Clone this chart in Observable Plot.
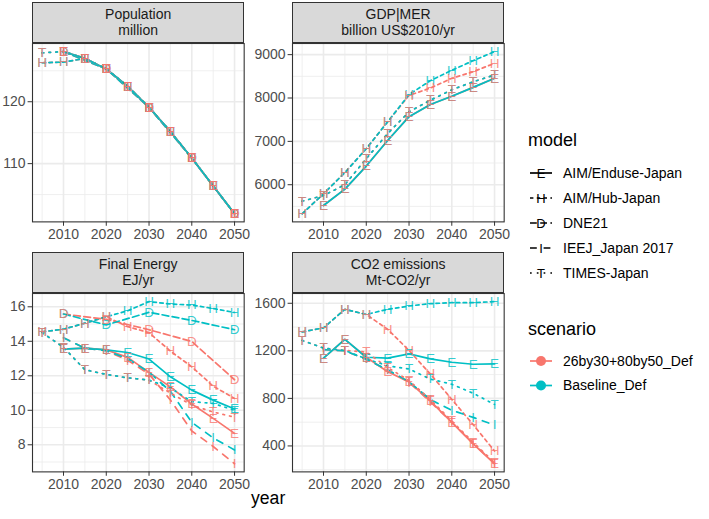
<!DOCTYPE html>
<html><head><meta charset="utf-8">
<script src="https://cdn.jsdelivr.net/npm/d3@7"></script>
<script src="https://cdn.jsdelivr.net/npm/@observablehq/plot@0.6"></script>
<style>
body{margin:0;background:#fff;}
#chart{position:relative;width:709px;height:519px;font-family:"Liberation Sans",Arial,sans-serif;overflow:hidden;background:#fff;}
.strip{position:absolute;box-sizing:border-box;background:#D9D9D9;border:1.1px solid #333;color:#1A1A1A;font-size:14px;line-height:16.7px;text-align:center;display:flex;flex-direction:column;justify-content:center;}
.pl{position:absolute;}
</style></head><body><div id="chart"></div>
<script>
// ---------- data ----------
const years = [2005,2010,2015,2020,2025,2030,2035,2040,2045,2050];
const models = ["AIM/Enduse-Japan","AIM/Hub-Japan","DNE21","IEEJ_Japan 2017","TIMES-Japan"];
const modelLetters = ["E","H","D","I","T"];
const scenarios = ["26by30+80by50_Def","Baseline_Def"];
const xMajor = [2010,2020,2030,2040,2050];
const xMinor = [2005,2015,2025,2035,2045];

// Population (million) - identical in both scenarios
const pop_E = [null,128.1,127.0,125.3,122.5,119.1,115.2,110.9,106.4,101.9];
const pop_H = [126.3,126.4,127.0,125.3,122.5,119.1,115.2,110.9,106.4,101.9];
const pop_D = [null,128.1,null,125.3,null,119.1,null,110.9,null,101.9];
const pop_I = [null,128.1,127.0,125.3,122.5,119.1,115.2,110.9,106.4,101.9];
const pop_T = [127.9,128.1,127.0,125.3,122.5,119.1,115.2,110.9,106.4,101.9];
const popMajor = [110,120];
const popMinor = [105,115,125];

// GDP|MER (billion US$2010/yr)
const gdp_E = [null,5520,5900,6430,7020,7570,7850,8040,8245,8454];
const gdp_H_pol = [5330,5790,6280,6830,7450,8060,8230,8454,8607,8800];
const gdp_H_base = [5330,5790,6280,6830,7450,8080,8400,8640,8860,9070];
const gdp_T = [5620,5750,6000,6600,7180,7680,7950,8190,8375,8530];
const gdpMajor = [6000,7000,8000,9000];
const gdpMinor = [5500,6500,7500,8500];

// Final Energy (EJ/yr)
const fe_E_pol = [null,13.55,13.6,13.5,13.07,12.2,11.36,10.36,9.53,8.66];
const fe_E_base = [null,13.55,13.6,13.5,13.35,12.97,11.94,11.17,10.59,10.07];
const fe_H_pol = [14.55,14.7,15.05,15.42,14.85,14.5,13.43,12.52,11.4,10.69];
const fe_H_base = [14.55,14.7,15.05,15.42,15.77,16.3,16.16,16.1,15.9,15.67];
const fe_D_pol = [null,15.58,null,15.27,null,14.67,null,13.99,null,11.77];
const fe_D_base = [null,15.58,null,14.95,null,15.68,null,15.21,null,14.67];
const fe_I_pol = [null,14.2,13.6,13.45,12.9,12.1,10.6,8.8,7.9,6.9];
const fe_I_base = [null,14.2,13.6,13.45,13.0,12.2,11.1,9.3,8.4,7.7];
const fe_T_pol = [14.5,13.65,12.35,12.08,11.88,11.75,11.0,10.3,9.9,9.6];
const fe_T_base = [14.5,13.65,12.35,12.08,11.88,11.75,11.3,10.5,10.4,10.0];
const feMajor = [8,10,12,14,16];
const feMinor = [7,9,11,13,15];

// CO2 emissions (Mt-CO2/yr)
const co2_E_pol = [null,1138,1296,1146,1024,939,777,598,417,250];
const co2_E_base = [null,1138,1296,1146,1138,1174,1132,1104,1087,1090];
const co2_H_pol = [1359,1393,1549,1506,1381,1203,1004,792,579,357];
const co2_H_base = [1359,1393,1549,1506,1549,1577,1597,1605,1605,1614];
const co2_I_pol = [null,1210,1200,1130,1040,935,770,600,420,255];
const co2_I_base = [null,1210,1200,1130,1040,940,790,700,640,575];
const co2_T_pol = [1288,1223,1203,1190,1060,950,790,610,430,260];
const co2_T_base = [1288,1223,1203,1132,1075,1047,962,919,843,749];
const co2Major = [400,800,1200,1600];
const co2Minor = [200,600,1000,1400];

// ---------- styles ----------
const scenarioColors = ["#F8766D","#00BFC4"];
const LW = 1.7;
const modelDash = [null,"3.4,3.4","6.8,3.4","6.8,6.8","1.7,5.1"];

const panels = [
  {title:["Population","million"], col:0, row:0, major:popMajor, minor:popMinor,
   series:[[0,0,pop_E],[0,1,pop_E],[1,0,pop_H],[1,1,pop_H],[2,0,pop_D],[2,1,pop_D],[3,0,pop_I],[3,1,pop_I],[4,0,pop_T],[4,1,pop_T]]},
  {title:["GDP|MER","billion US$2010/yr"], col:1, row:0, major:gdpMajor, minor:gdpMinor,
   series:[[0,0,gdp_E],[0,1,gdp_E],[1,0,gdp_H_pol],[1,1,gdp_H_base],[4,0,gdp_T],[4,1,gdp_T]]},
  {title:["Final Energy","EJ/yr"], col:0, row:1, major:feMajor, minor:feMinor,
   series:[[0,0,fe_E_pol],[0,1,fe_E_base],[1,0,fe_H_pol],[1,1,fe_H_base],[2,0,fe_D_pol],[2,1,fe_D_base],[3,0,fe_I_pol],[3,1,fe_I_base],[4,0,fe_T_pol],[4,1,fe_T_base]]},
  {title:["CO2 emissions","Mt-CO2/yr"], col:1, row:1, major:co2Major, minor:co2Minor,
   series:[[0,0,co2_E_pol],[0,1,co2_E_base],[1,0,co2_H_pol],[1,1,co2_H_base],[3,0,co2_I_pol],[3,1,co2_I_base],[4,0,co2_T_pol],[4,1,co2_T_base]]}
];

// ---------- layout ----------
const colX = [32.3, 292.3];
const rowY = [43.3, 293.3];
const PW = 211.7, PH = 178.4, STRIP = 41.6;
const ML = 46, MR = 2, MT = 2, MB = 28;

const chart = d3.select("#chart");

function rows(list){
  const out = [];
  for (const [m,s,vals] of list) vals.forEach((v,i) => {
    if (v != null) out.push({year: years[i], value: v, m, s, model: models[m], letter: modelLetters[m], scenario: scenarios[s]});
  });
  return out;
}

for (const p of panels) {
  const data = rows(p.series);
  const ext = d3.extent(data, d => d.value);
  const pad = (ext[1]-ext[0])*0.05;
  const xPad = (years[years.length-1]-years[0])*0.05;
  const marks = [
    Plot.gridX(xMinor, {stroke:"#EBEBEB", strokeOpacity:1, strokeWidth:0.8}),
    Plot.gridY(p.minor, {stroke:"#EBEBEB", strokeOpacity:1, strokeWidth:0.8}),
    Plot.gridX(xMajor, {stroke:"#EBEBEB", strokeOpacity:1, strokeWidth:1.6}),
    Plot.gridY(p.major, {stroke:"#EBEBEB", strokeOpacity:1, strokeWidth:1.6})
  ];
  models.forEach((mn, mi) => {
    const d = data.filter(r => r.m === mi).sort((a,b) => a.s - b.s || a.year - b.year);
    if (!d.length) return;
    const o = {x:"year", y:"value", z:"scenario", stroke:"scenario", strokeWidth:LW};
    if (modelDash[mi]) o.strokeDasharray = modelDash[mi];
    marks.push(Plot.line(d, o));
  });
  const pts = data.slice().sort((a,b) => b.s - a.s);
  marks.push(Plot.text(pts, {x:"year", y:"value", text:"letter", fill:"scenario", fontSize:13.5, fillOpacity:0.8}));
  marks.push(Plot.frame({stroke:"#333333", strokeWidth:1.1}));
  marks.push(Plot.axisX(xMajor, {tickSize:4.4, tickPadding:2.5, stroke:"#333333", fill:"#4D4D4D", fontSize:14, label:null, tickFormat:d=>String(d)}));
  marks.push(Plot.axisY(p.major, {tickSize:4.4, tickPadding:2.5, stroke:"#333333", fill:"#4D4D4D", fontSize:14, label:null, tickFormat:d=>String(d)}));
  const svg = Plot.plot({
    width: ML+PW+MR, height: MT+PH+MB,
    marginLeft: ML, marginRight: MR, marginTop: MT, marginBottom: MB,
    x: {domain:[years[0]-xPad, years[years.length-1]+xPad]},
    y: {domain:[ext[0]-pad, ext[1]+pad]},
    color: {domain: scenarios, range: scenarioColors},
    style: {fontFamily:'"Liberation Sans",Arial,sans-serif', fontSize:"14px", background:"transparent", overflow:"visible"},
    marks
  });
  const wrap = chart.append("div").attr("class","pl")
    .style("left", (colX[p.col]-ML)+"px").style("top", (rowY[p.row]-MT)+"px");
  wrap.node().appendChild(svg);
  const st = chart.append("div").attr("class","strip")
    .style("left", colX[p.col]+"px").style("top", (rowY[p.row]-STRIP)+"px")
    .style("width", PW+"px").style("height", STRIP+"px");
  p.title.forEach(t => st.append("div").text(t));
}

// axis title
chart.append("div").text("year")
  .style("position","absolute").style("left",(colX[0])+"px").style("width",(colX[1]+PW-colX[0])+"px")
  .style("top","488px").style("text-align","center").style("font-size","17.6px").style("color","#000");

// ---------- legend ----------
const lg = chart.append("svg").attr("width",709).attr("height",519)
  .style("position","absolute").style("left","0").style("top","0")
  .style("font-family",'"Liberation Sans",Arial,sans-serif');
lg.append("text").attr("x",528).attr("y",140).attr("dy","0.35em").attr("font-size",18).text("model");
models.forEach((mn, i) => {
  const y = 173 + 25*i;
  const ln = lg.append("line").attr("x1",530).attr("x2",552).attr("y1",y).attr("y2",y)
    .attr("stroke","#000").attr("stroke-width",LW);
  if (modelDash[i]) ln.attr("stroke-dasharray", modelDash[i]);
  lg.append("text").attr("x",541).attr("y",y).attr("dy","0.35em").attr("text-anchor","middle")
    .attr("font-size",13).text(modelLetters[i]);
  lg.append("text").attr("x",563).attr("y",y).attr("dy","0.35em").attr("font-size",14).text(mn);
});
lg.append("text").attr("x",528).attr("y",329).attr("dy","0.35em").attr("font-size",18).text("scenario");
scenarios.forEach((sn, i) => {
  const y = 361 + 24.5*i;
  lg.append("line").attr("x1",530).attr("x2",552).attr("y1",y).attr("y2",y)
    .attr("stroke",scenarioColors[i]).attr("stroke-width",LW);
  lg.append("circle").attr("cx",541).attr("cy",y).attr("r",5).attr("fill",scenarioColors[i]);
  lg.append("text").attr("x",563).attr("y",y).attr("dy","0.35em").attr("font-size",14).text(sn);
});
</script></body></html>
